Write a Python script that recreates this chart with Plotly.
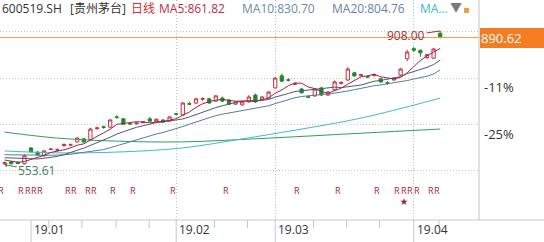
import plotly.graph_objects as go

# ---------------- data ----------------
# trading-day index: 0 = 2018-12-25 ... 66 = 2019-04-08
idx = list(range(67))
opens = [556, 561, 560, 556, 598, 587, 577, 594, 592, 604, 606, 614, 622, 620, 649, 654, 653, 680, 675, 662,
         662, 665, 675, 667, 672, 670, 688.5, 685, 715, 717, 727, 728, 722, 730, 725, 714, 712, 720, 738, 725,
         730, 757, 789, 778.5, 767, 754, 733.5, 736, 757, 738, 752, 769, 778, 797, 790, 787, 790, 781, 771, 778,
         791, 834, 861, 857, 837, 836, 902]
highs = [562, 563, 562, 582, 600, 589, 592, 597, 597, 610, 610, 627, 624, 651, 654, 657, 675, 685, 677, 663,
         666, 669, 680, 676, 674, 682, 691, 720, 720, 731, 732, 730, 738, 734, 727, 722, 722, 738, 742, 735,
         749, 786, 795, 782, 772, 757, 737, 756, 760, 749, 777, 775, 812, 800, 794, 790, 795, 784, 775, 785,
         810, 858, 866, 858, 847, 863, 908]
lows = [553.61, 554.5, 555, 554, 586, 577, 575, 592, 589, 601, 602, 612, 611, 617, 646, 649, 651, 675, 659, 659,
        660, 663, 667, 665, 665, 668, 684, 683, 711, 714, 723, 715, 720, 720, 712, 712, 710, 718, 717, 723,
        728, 755, 772, 774, 764, 742, 730, 733, 736, 736, 750, 766, 775, 786, 788, 783, 787, 771, 766, 776,
        789, 828, 852, 839, 834, 834, 888]
closes = [559, 556, 557, 577, 588, 580, 590, 595, 593, 607, 606.5, 624, 614, 648, 651, 652.5, 672, 679, 661, 661.5,
          664, 667, 669, 674, 667, 680, 687.5, 717, 714, 728, 728.5, 717, 736, 722, 714, 720, 720, 733, 720, 733,
          746, 783, 775, 777.5, 768, 744, 732.5, 754, 738, 746, 773, 771, 807, 789, 792, 786, 792, 773, 770, 783,
          807, 852, 857, 850, 845, 860, 890.62]

ma5 = [566, 563, 560, 562, 567.4, 571.6, 578.4, 586, 589.2, 593, 598.3, 605.1, 608.9, 619.9, 628.7, 637.9, 647.5,
       660.5, 663.1, 665.2, 667.5, 666.5, 664.5, 667.1, 668.2, 671.4, 675.5, 685.1, 693.1, 705.3, 715, 720.9,
       724.7, 726.3, 723.5, 721.8, 722.4, 721.8, 721.4, 725.2, 730.4, 743, 751.4, 762.9, 769.9, 769.5, 759.4,
       755.2, 747.3, 742.9, 748.7, 756.4, 767, 777.2, 786.4, 789, 793.2, 786.4, 782.6, 780.8, 785, 797, 813.8,
       829.8, 842.2, 852.8, 861.82]
ma10 = [572, 571, 570, 569, 568.7, 568.8, 570.7, 573, 575.6, 580.2, 585, 591.8, 597.5, 604.6, 610.9, 618.1,
        626.3, 634.7, 641.5, 647, 652.7, 657, 662.5, 665.1, 666.7, 669.5, 671, 674.8, 680.1, 686.8, 693.2, 698.2,
        704.9, 709.7, 714.4, 718.4, 721.7, 723.3, 723.9, 724.4, 726.1, 732.7, 736.6, 742.2, 747.6, 750, 751.2,
        753.3, 755.1, 756.4, 759.1, 757.9, 761.1, 762.3, 764.7, 768.9, 774.8, 776.7, 779.9, 783.6, 787, 795.1,
        800.1, 806.2, 811.5, 818.9, 830.70]
ma20 = [580, 579.5, 579, 578.5, 578, 578, 578, 578.5, 579, 579, 581, 584, 586, 589, 591, 593.5, 598.5, 603.9,
        608.6, 613.6, 618.9, 624.4, 630, 634.9, 638.8, 643.8, 648.7, 654.8, 660.8, 666.9, 673, 677.6, 683.7,
        687.4, 690.6, 694, 696.4, 699, 702, 705.6, 709.7, 715.5, 720.8, 726, 731, 734.2, 736.5, 738.3, 739.5,
        740.4, 742.6, 745.3, 748.9, 752.3, 756.2, 759.5, 763, 765, 767.5, 770, 773, 776.5, 780.6, 784.3, 788.1,
        793.9, 804.76]
ma60_idx = [0, 8, 17, 27, 36, 44, 54, 66]
ma60 = [590, 585, 587, 598, 622, 645, 677, 730]
ma120_idx = [0, 8, 17, 27, 40, 54, 66]
ma120 = [640, 624, 616, 614, 624, 637, 648]

pct_base = 880.1
pct_grid = [3, -11, -25, -39]
pct_labels = {-11: "-11%", -25: "-25%"}

month_idx = [4, 26, 41, 62]
month_labels = ["19.01", "19.02", "19.03", "19.04"]
week_ticks = [6.7, 11.7, 16.9, 21.9, 31.8, 36.8, 46.8, 51.8, 56.8, 65.8]
r_marks = [-0.6, 2.5, 3.5, 4.5, 5.4, 9.6, 10.5, 12.6, 13.5, 16.4, 19.5, 25.5, 33.5, 44.3, 50.5, 56.4,
           59.5, 60.5, 61.4, 62.5, 64.6, 65.5]
star_mark = 60.5

last_price = 890.62
high_price, high_idx = 908.00, 66
low_price, low_idx = 553.61, 0

header = [("600519.SH", "#333333", 0), ("[贵州茅台]", "#333333", 68), ("日线", "#d0312d", 129),
          ("MA5:861.82", "#b8334c", 157), ("MA10:830.70", "#6b8ca5", 240),
          ("MA20:804.76", "#6883a6", 330), ("MA...", "#3db6c6", 418)]

# ---------------- layout helpers ----------------
W, H = 544, 242
ML, MR, MT, MB = 0, 65, 0, 22
PW, PH = W - ML - MR, H - MT - MB
FONT = "Open Sans, Noto Sans CJK SC, sans-serif"


def fx(px):
    return px / PW


def fy(py):
    return 1 - py / PH


RED, GREEN = "#c8303f", "#1e8a2c"

fig = go.Figure()
fig.add_trace(go.Scatter(x=ma120_idx, y=ma120, mode="lines", line=dict(color="#2f9e5f", width=1),
                         hoverinfo="skip", line_shape="spline"))
fig.add_trace(go.Scatter(x=ma60_idx, y=ma60, mode="lines", line=dict(color="#3fbcc6", width=1),
                         hoverinfo="skip", line_shape="spline"))
fig.add_trace(go.Scatter(x=idx, y=ma20, mode="lines", line=dict(color="#5a7aa0", width=1), hoverinfo="skip"))
fig.add_trace(go.Scatter(x=idx, y=ma10, mode="lines", line=dict(color="#4a5c74", width=1), hoverinfo="skip"))
fig.add_trace(go.Scatter(x=idx, y=ma5, mode="lines", line=dict(color="#9c2447", width=1), hoverinfo="skip"))
fig.add_trace(go.Candlestick(x=idx, open=opens, high=highs, low=lows, close=closes,
                             increasing=dict(line=dict(color=RED, width=1), fillcolor="white"),
                             decreasing=dict(line=dict(color=GREEN, width=1), fillcolor=GREEN),
                             whiskerwidth=0, hoverinfo="skip"))

grid_vals = [pct_base * (1 + p / 100) for p in pct_grid]
x_lo = 4 + (0 - 31) / 6.6
x_hi = 4 + (PW - 31) / 6.6
y_hi = last_price + 37.5 * 2.65
y_lo = last_price - (PH - 37.5) * 2.65

fig.update_layout(
    width=W, height=H, margin=dict(l=ML, r=MR, t=MT, b=MB, autoexpand=False),
    paper_bgcolor="white", plot_bgcolor="white", showlegend=False,
    font=dict(family=FONT, size=12, color="#333333"),
    xaxis=dict(range=[x_lo, x_hi], tickvals=month_idx[1:], showticklabels=False, ticks="",
               showgrid=True, gridcolor="#c4c4c4", griddash="1px,2px", gridwidth=1,
               zeroline=False, showline=False, rangeslider=dict(visible=False), fixedrange=True),
    yaxis=dict(range=[y_lo, y_hi], tickvals=grid_vals, showticklabels=False, ticks="",
               showgrid=True, gridcolor="#c4c4c4", griddash="1px,2px", gridwidth=1,
               zeroline=False, showline=False, fixedrange=True),
)

shapes = []
# current price line
shapes.append(dict(type="line", xref="paper", yref="y", x0=0, x1=1, y0=last_price, y1=last_price,
                   line=dict(color="#eba04c", width=1)))
# right axis line and bottom axis line
shapes.append(dict(type="line", xref="paper", yref="paper", x0=1, x1=1, y0=0, y1=1,
                   line=dict(color="#c0c0c0", width=1)))
shapes.append(dict(type="line", xref="paper", yref="paper", x0=0, x1=W / PW, y0=0, y1=0,
                   line=dict(color="#c8c8c8", width=1)))
# price label box
shapes.append(dict(type="rect", xref="paper", yref="paper", x0=fx(480), x1=fx(W), y0=fy(48), y1=fy(28),
                   fillcolor="#f47d22", line=dict(width=0)))
# lock icon
shapes.append(dict(type="rect", xref="paper", yref="paper", x0=fx(464), x1=fx(469), y0=fy(13), y1=fy(8),
                   fillcolor="#e6a53a", line=dict(width=0)))
# month ticks
for m in month_idx:
    shapes.append(dict(type="line", xref="x", yref="paper", x0=m, x1=m, y0=0, y1=fy(H),
                       line=dict(color="#c8c8c8", width=1)))
for wk in week_ticks:
    shapes.append(dict(type="line", xref="x", yref="paper", x0=wk, x1=wk, y0=0, y1=fy(PH + 8),
                       line=dict(color="#c8c8c8", width=1)))

ann = []
for text, col, px in header:
    ann.append(dict(xref="paper", yref="paper", x=fx(px), y=fy(9), xanchor="left", yanchor="middle",
                    text=text, showarrow=False, font=dict(size=12, color=col)))
ann.append(dict(xref="paper", yref="paper", x=fx(448), y=fy(7), xanchor="left", yanchor="middle",
                text="▼", showarrow=False, font=dict(size=12, color="#7a7a7a")))
ann.append(dict(xref="paper", yref="paper", x=fx(480), y=fy(38), xanchor="left", yanchor="middle",
                width=60, align="left", borderpad=0,
                text=f"{last_price:.2f}", showarrow=False, font=dict(size=13, color="white")))
for p in pct_grid:
    if p in pct_labels:
        ann.append(dict(xref="paper", yref="y", x=fx(483), y=pct_base * (1 + p / 100), xanchor="left",
                        yanchor="middle", yshift=-9, width=50, align="left", borderpad=0,
                        text=pct_labels[p], showarrow=False, font=dict(size=13, color="#333333")))
for m, lab in zip(month_idx, month_labels):
    ann.append(dict(xref="x", yref="paper", x=m, y=fy(229), xanchor="left", yanchor="middle", xshift=1,
                    text=lab, showarrow=False, font=dict(size=12, color="#333333")))
for r in r_marks:
    ann.append(dict(xref="x", yref="paper", x=r, y=fy(190), xanchor="center", yanchor="middle",
                    text="R", showarrow=False, borderpad=0, font=dict(size=9, color="#9a1f3a")))
ann.append(dict(xref="x", yref="paper", x=star_mark, y=fy(200), xanchor="center", yanchor="middle",
                text="★", showarrow=False, borderpad=0, font=dict(size=8, color="#9a1f3a")))
ann.append(dict(xref="x", yref="y", x=high_idx, y=high_price, text=f"{high_price:.2f}", showarrow=True,
                arrowhead=0, arrowwidth=1, arrowcolor="#a8302e", ax=-34, ay=5,
                font=dict(size=12, color="#a8302e")))
ann.append(dict(xref="x", yref="y", x=low_idx, y=low_price, text=f"{low_price:.2f}", showarrow=True,
                arrowhead=1, arrowsize=0.8, arrowwidth=1, arrowcolor="#3d7f5a", ax=32, ay=6,
                font=dict(size=12, color="#3d7f5a")))

fig.update_layout(shapes=shapes, annotations=ann)
fig.write_html("out.html")
